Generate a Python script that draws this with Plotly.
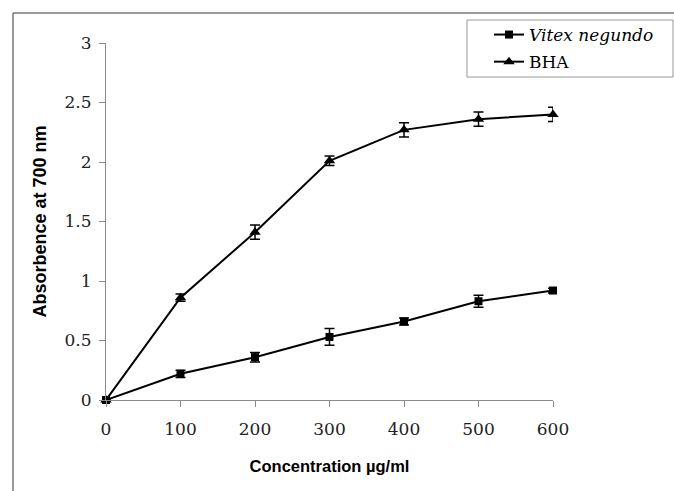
import plotly.graph_objects as go

conc = [0, 100, 200, 300, 400, 500, 600]
vitex = [0, 0.22, 0.36, 0.53, 0.66, 0.83, 0.92]
vitex_err = [0, 0.03, 0.04, 0.07, 0.03, 0.05, 0.02]
bha = [0, 0.86, 1.41, 2.01, 2.27, 2.36, 2.40]
bha_err = [0, 0.03, 0.06, 0.04, 0.06, 0.06, 0.06]
x_ticks = [0, 100, 200, 300, 400, 500, 600]
y_ticks = [0, 0.5, 1, 1.5, 2, 2.5, 3]
y_tick_text = ["0", "0.5", "1", "1.5", "2", "2.5", "3"]

W, H = 674, 491
L, R, T, B = 106, 121, 43, 91
pw, ph = W - L - R, H - T - B

def px(xp):
    return (xp - L) / pw

def py(yp):
    return (H - B - yp) / ph

fig = go.Figure()
fig.add_trace(go.Scatter(
    x=conc, y=vitex, mode="lines+markers", name="<i>Vitex negundo</i>",
    line=dict(color="black", width=2),
    marker=dict(symbol="square", size=8, color="black"),
    error_y=dict(type="data", array=vitex_err, visible=True, color="black", thickness=1.5, width=5),
    cliponaxis=False, legendgroup="a"))
fig.add_trace(go.Scatter(
    x=conc, y=bha, mode="lines+markers", name="BHA",
    line=dict(color="black", width=2),
    marker=dict(symbol="triangle-up", size=10, color="black"),
    error_y=dict(type="data", array=bha_err, visible=True, color="black", thickness=1.5, width=5),
    cliponaxis=False, legendgroup="b"))

serif = "DejaVu Serif"
fig.update_layout(
    width=W, height=H,
    margin=dict(l=L, r=R, t=T, b=B),
    paper_bgcolor="white", plot_bgcolor="white",
    font=dict(family=serif, size=17, color="#222"),
    xaxis=dict(range=[0, 600], tickvals=x_ticks, showgrid=False, zeroline=False,
               showline=True, linecolor="#8a8a8a", linewidth=1,
               ticks="outside", ticklen=6, tickcolor="#8a8a8a",
               ticklabelstandoff=8,
               title=dict(text="<b>Concentration µg/ml</b>",
                          font=dict(family="Liberation Sans", size=16.5, color="black"),
                          standoff=22)),
    yaxis=dict(range=[0, 3], tickvals=y_ticks, ticktext=y_tick_text, showgrid=False, zeroline=False,
               showline=True, linecolor="#8a8a8a", linewidth=1,
               ticks="outside", ticklen=6, tickcolor="#8a8a8a",
               ticklabelstandoff=4,
               title=dict(text="<b>Absorbence at 700 nm</b>",
                          font=dict(family="Liberation Sans", size=18, color="black"),
                          standoff=13)),
    legend=dict(x=px(489), y=py(17), xanchor="left", yanchor="top",
                bgcolor="rgba(0,0,0,0)", borderwidth=0,
                traceorder="grouped", tracegroupgap=2,
                font=dict(family=serif, size=17, color="black")),
    shapes=[
        dict(type="line", xref="paper", yref="paper", x0=px(13), x1=px(W), y0=py(13), y1=py(13),
             line=dict(color="#777", width=1.5)),
        dict(type="line", xref="paper", yref="paper", x0=px(13), x1=px(13), y0=py(13), y1=py(H),
             line=dict(color="#777", width=1.5)),
        dict(type="rect", xref="paper", yref="paper", x0=px(467), x1=px(673), y0=py(20), y1=py(77),
             line=dict(color="#999", width=1)),
    ],
)

fig.write_html("out.html")
